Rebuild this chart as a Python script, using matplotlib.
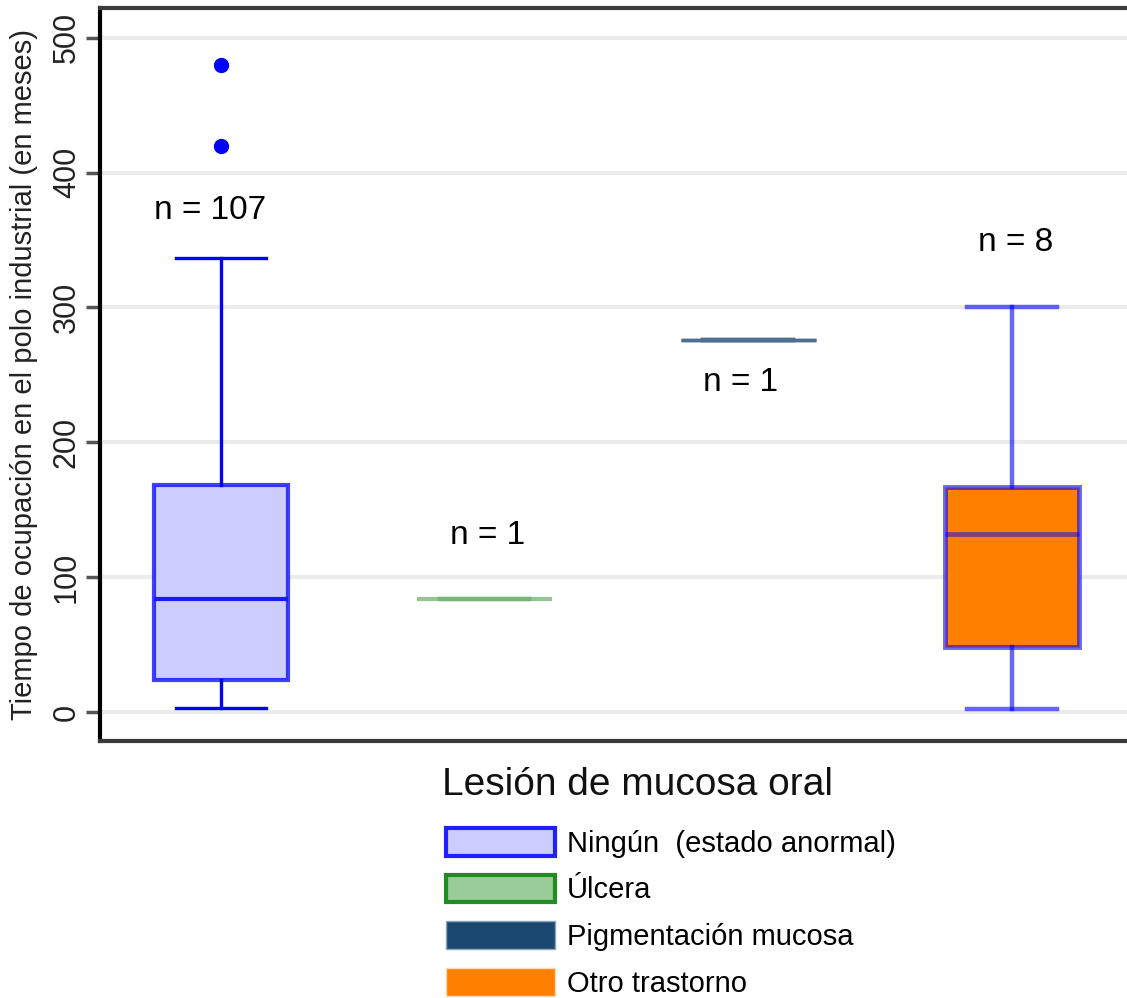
import matplotlib
matplotlib.use("Agg")
import matplotlib.pyplot as plt
from matplotlib.patches import Patch

plt.rcParams['font.family'] = ['Liberation Sans', 'DejaVu Sans']

categories = ["Ningún  (estado anormal)", "Úlcera", "Pigmentación mucosa", "Otro trastorno"]
q1 = [24, 84, 276, 48]
med = [84, 84, 276, 132]
q3 = [168, 84, 276, 167]
whislo = [3, 84, 276, 2]
whishi = [337, 84, 276, 300]
outliers = [[420, 480], [], [], []]
n_obs = [107, 1, 1, 8]
n_label_y = [372, 131, 244, 348]
yticks = [0, 100, 200, 300, 400, 500]

stats = []
for i in range(len(categories)):
    stats.append(dict(q1=q1[i], med=med[i], q3=q3[i], whislo=whislo[i],
                      whishi=whishi[i], fliers=outliers[i]))

fig = plt.figure(figsize=(11.27, 9.98), dpi=100)
ax = fig.add_axes([100 / 1127, 257 / 998, 1 - 100 / 1127, 733 / 998])

pos = [1, 2, 3, 4]
bp = ax.bxp(stats, positions=pos, widths=0.51, capwidths=0.34, patch_artist=True,
            showfliers=True)

edge_cols = [(0, 0, 1, 0.75), (0.45, 0.7, 0.45, 0.5), (0.3, 0.43, 0.56, 0.95), (0, 0, 1, 0.6)]
fill_cols = ["#ccccff", "none", "none", "#ff8000"]
med_cols = ["#1a1aff", (0.45, 0.7, 0.45, 0.5), "#4f6f8f", (0, 0, 1, 0.5)]
line_w = [3, 3, 2.5, 3.5]
for i in range(4):
    bp['boxes'][i].set_facecolor(fill_cols[i])
    bp['boxes'][i].set_edgecolor(edge_cols[i])
    bp['boxes'][i].set_linewidth(line_w[i])
    bp['medians'][i].set_color(med_cols[i])
    bp['medians'][i].set_linewidth(line_w[i])
    for w in bp['whiskers'][2 * i:2 * i + 2]:
        w.set_color(edge_cols[i] if i != 0 else "#0000ff")
        w.set_linewidth(2.4 if i == 0 else 3.2)
    for c in bp['caps'][2 * i:2 * i + 2]:
        c.set_color(edge_cols[i] if i != 0 else "#0000ff")
        c.set_linewidth(2.4 if i == 0 else 3.2)
    bp['fliers'][i].set(marker='o', markerfacecolor='#0000ff', markeredgecolor='#0000ff',
                        markersize=10)

# n labels sit a little off the box centres in the original
label_dx = [-0.04, 0.01, -0.03, 0.015]
for i in range(4):
    ax.text(pos[i] + label_dx[i], n_label_y[i], f"n = {n_obs[i]}", ha='center', va='center',
            fontsize=24, color='black')

ax.set_xlim(0.542, 4.436)
ax.set_ylim(-21.5, 522)
ax.set_xticks([])
ax.set_yticks(yticks)
ax.set_yticklabels([str(t) for t in yticks], rotation=90, va='center', fontsize=22,
                   color='#222222')
ax.tick_params(axis='y', length=10, width=2.5, color='#555555', pad=3)
ax.yaxis.grid(True, color='#ebebeb', linewidth=3)
ax.set_axisbelow(True)

ax.spines['left'].set_color('black')
ax.spines['left'].set_linewidth(3)
ax.spines['bottom'].set_color('#3a3a3a')
ax.spines['bottom'].set_linewidth(3)
ax.spines['top'].set_color('#3a3a3a')
ax.spines['top'].set_linewidth(3)
ax.spines['right'].set_visible(False)

ax.set_ylabel("Tiempo de ocupación en el polo industrial (en meses)", fontsize=21,
              color='#222222')
ax.yaxis.set_label_coords(-62 / 1027, 0.5)

fig.text(638 / 1127, 1 - 785 / 998, "Lesión de mucosa oral", ha='center', va='center',
         fontsize=28, color='#111111')

handles = [
    Patch(facecolor="#ccccff", edgecolor="#2020ff", linewidth=3),
    Patch(facecolor="#99cc99", edgecolor="#228b22", linewidth=3),
    Patch(facecolor="#1a4870", edgecolor="#8da4bb", linewidth=1),
    Patch(facecolor="#ff8000", edgecolor="#ffd9b0", linewidth=1),
]
fig.legend(handles, categories, loc='upper left', bbox_to_anchor=(446 / 1127, 1 - 828 / 998),
           frameon=False, fontsize=21, handlelength=3.75, handleheight=1.08,
           handletextpad=0.4, labelspacing=0.58, borderaxespad=0, borderpad=0)

fig.savefig("out.png", dpi=100)
